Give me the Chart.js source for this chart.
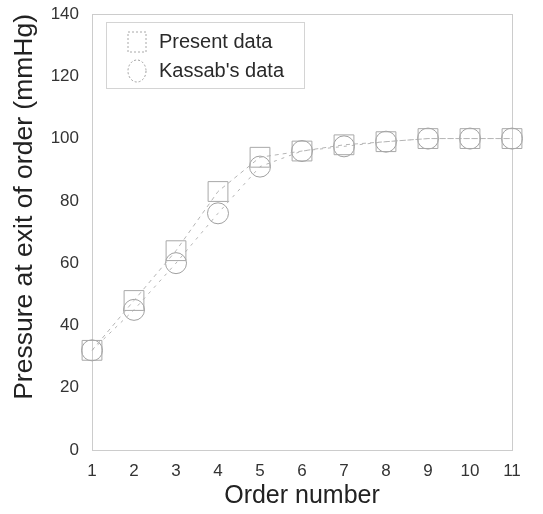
<!DOCTYPE html>
<html>
<head>
<meta charset="utf-8">
<script src="https://cdn.jsdelivr.net/npm/chart.js@4/dist/chart.umd.min.js"></script>
<style>
  html, body { margin: 0; padding: 0; background: #fff; }
  #wrap { width: 543px; height: 514px; }
</style>
</head>
<body>
<div id="wrap"><canvas id="myChart" width="543" height="514"></canvas></div>
<script>
var orders = [1, 2, 3, 4, 5, 6, 7, 8, 9, 10, 11];
var presentData = [32, 48, 64, 83, 94, 96, 98, 99, 100, 100, 100];
var kassabData = [32, 45, 60, 76, 91, 96, 97.5, 99, 100, 100, 100];
var yTicks = [0, 20, 40, 60, 80, 100, 120, 140];

function pairs(ys) {
  return orders.map(function (x, i) { return { x: x, y: ys[i] }; });
}

var FONT = '"Liberation Sans", Arial, sans-serif';

// frame around the plot area, plus the legend box drawn inside it
var framePlugin = {
  id: 'frame',
  beforeDatasetsDraw: function (chart) {
    var a = chart.chartArea, c = chart.ctx;
    c.save();
    c.strokeStyle = '#cccccc';
    c.lineWidth = 1;
    c.strokeRect(a.left + 0.5, a.top + 0.5, a.right - a.left, a.bottom - a.top);
    c.restore();
  },
  afterDraw: function (chart) {
    var a = chart.chartArea, c = chart.ctx;
    var bx = a.left + 14, by = a.top + 8, bw = 198, bh = 66;
    c.save();
    c.fillStyle = '#fff';
    c.fillRect(bx, by, bw, bh);
    c.strokeStyle = '#d4d4d4';
    c.strokeRect(bx + 0.5, by + 0.5, bw, bh);
    chart.data.datasets.forEach(function (ds, i) {
      var cy = by + 20 + i * 29;
      var cx = bx + 31;
      c.strokeStyle = ds.pointBorderColor;
      c.lineWidth = 1;
      c.setLineDash([2, 2]);
      if (ds.pointStyle === 'rect') {
        c.strokeRect(cx - 9, cy - 10, 18, 20);
      } else {
        c.beginPath();
        c.ellipse(cx, cy, 9, 11, 0, 0, Math.PI * 2);
        c.stroke();
      }
      c.setLineDash([]);
      c.fillStyle = '#2a2a2a';
      c.font = '20px ' + FONT;
      c.textBaseline = 'middle';
      c.fillText(ds.label, bx + 53, cy);
    });
    c.restore();
  }
};

var ctx = document.getElementById('myChart');
var myChart = new Chart(ctx, {
  type: 'line',
  data: {
    datasets: [{
      label: 'Present data',
      data: pairs(presentData),
      clip: false,
      borderColor: '#b5b5b5',
      borderWidth: 1,
      borderDash: [4, 4],
      pointStyle: 'rect',
      pointRadius: 14,
      pointBorderColor: '#a8a8a8',
      pointBackgroundColor: 'rgba(255,255,255,0)',
      pointBorderWidth: 1
    }, {
      label: "Kassab's data",
      data: pairs(kassabData),
      clip: false,
      borderColor: '#b5b5b5',
      borderWidth: 1,
      borderDash: [3, 5],
      pointStyle: 'circle',
      pointRadius: 10.5,
      pointBorderColor: '#a0a0a0',
      pointBackgroundColor: 'rgba(255,255,255,0)',
      pointBorderWidth: 1
    }]
  },
  options: {
    responsive: false,
    animation: false,
    layout: { autoPadding: false, padding: { top: 14, right: 31, left: 0, bottom: 0 } },
    plugins: {
      legend: { display: false },
      tooltip: { enabled: false }
    },
    scales: {
      x: {
        type: 'linear',
        min: 1,
        max: 11,
        grid: { display: false, drawTicks: false },
        border: { color: '#c0c0c0' },
        ticks: {
          stepSize: 1,
          padding: 11,
          color: '#333',
          font: { family: FONT, size: 17 }
        },
        title: {
          display: true,
          text: 'Order number',
          color: '#222',
          padding: { top: 2, bottom: 3 },
          font: { family: FONT, size: 25 }
        },
        afterFit: function (s) { s.height = 64; }
      },
      y: {
        min: 0,
        max: 140,
        grid: { display: false, drawTicks: false },
        border: { color: '#c0c0c0' },
        afterBuildTicks: function (s) {
          s.ticks = yTicks.map(function (v) { return { value: v }; });
        },
        ticks: {
          padding: 13,
          color: '#333',
          font: { family: FONT, size: 17 }
        },
        title: {
          display: true,
          text: 'Pressure at exit of order (mmHg)',
          color: '#222',
          align: 'end',
          padding: { top: 9, bottom: 0 },
          font: { family: FONT, size: 26.5 }
        },
        afterFit: function (s) {
          s.width = 92;
          s.paddingTop = 0;
        }
      }
    }
  },
  plugins: [framePlugin]
});
</script>
</body>
</html>
